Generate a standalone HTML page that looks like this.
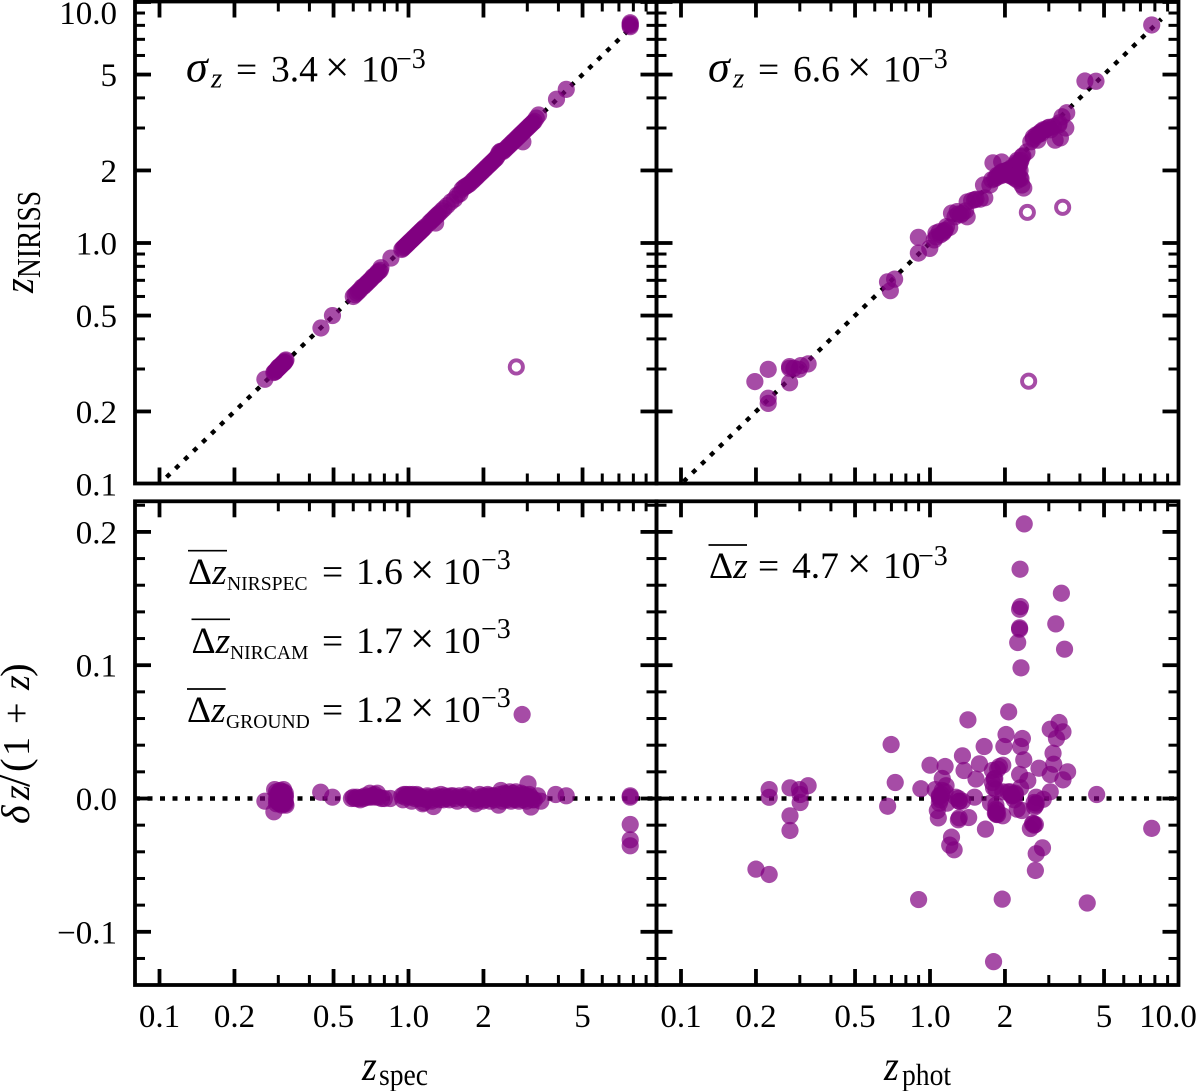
<!DOCTYPE html>
<html>
<head>
<meta charset="utf-8">
<style>
html,body{margin:0;padding:0;background:#fff;}
svg{display:block;}
text{font-family:"Liberation Serif","DejaVu Serif",serif;fill:#000;}
.i{font-style:italic;}
</style>
</head>
<body>
<svg id="fig" xmlns="http://www.w3.org/2000/svg" width="1200" height="1091" viewBox="0 0 1200 1091">
<rect x="0" y="0" width="1200" height="1091" fill="#fff"/>
<g id="layer-marks"></g>
<g id="layer-axes"></g>

<g>
<text transform="translate(33,293) rotate(-90) scale(1,1.15)" font-size="38" class="i">z</text>
<text transform="translate(40,278) rotate(-90) scale(1,1.22)" font-size="27.5">NIRISS</text>
</g>
<text transform="translate(29,824) rotate(-90)" font-size="38"><tspan x="0" class="i" font-size="40">δ</tspan><tspan x="24" class="i">z</tspan><tspan x="37" font-size="44">/</tspan><tspan x="52" font-size="41">(</tspan><tspan x="68">1</tspan><tspan x="100">+</tspan><tspan x="134" class="i">z</tspan><tspan x="147" font-size="41">)</tspan></text>
<g>
<text transform="translate(362,1080) scale(1,1.12)" font-size="38" class="i">z</text>
<text transform="translate(379,1085) scale(1,1.12)" font-size="27.6">spec</text>
</g>
<g>
<text transform="translate(884,1080) scale(1,1.12)" font-size="38" class="i">z</text>
<text transform="translate(902,1085) scale(1,1.12)" font-size="27.6">phot</text>
</g>

<text y="81.7" font-size="37.5"><tspan x="186" class="i" font-size="44">σ</tspan><tspan x="211" class="i" font-size="29" dy="6">z</tspan><tspan x="236" dy="-6">=</tspan><tspan x="271">3.4</tspan><tspan x="325" font-size="43">×</tspan><tspan x="361">10</tspan><tspan x="396" dy="-13.5" font-size="28">−3</tspan></text>
<text y="81.7" font-size="37.5"><tspan x="708" class="i" font-size="44">σ</tspan><tspan x="733" class="i" font-size="29" dy="6">z</tspan><tspan x="758" dy="-6">=</tspan><tspan x="793">6.6</tspan><tspan x="847" font-size="43">×</tspan><tspan x="883">10</tspan><tspan x="918" dy="-13.5" font-size="28">−3</tspan></text>

<line x1="188" y1="550.7" x2="227" y2="550.7" stroke="#000" stroke-width="1.7"/>
<text y="584" font-size="37.5"><tspan x="188">Δ</tspan><tspan class="i">z</tspan><tspan x="227" dy="6" font-size="19.6">NIRSPEC</tspan><tspan x="322" dy="-6">=</tspan><tspan x="356">1.6</tspan><tspan x="410" font-size="43">×</tspan><tspan x="443">10</tspan><tspan x="481" dy="-15" font-size="28">−3</tspan></text>
<line x1="191.5" y1="619.3" x2="230" y2="619.3" stroke="#000" stroke-width="1.7"/>
<text y="653" font-size="37.5"><tspan x="191.5">Δ</tspan><tspan class="i">z</tspan><tspan x="230" dy="6" font-size="19.6">NIRCAM</tspan><tspan x="322" dy="-6">=</tspan><tspan x="356">1.7</tspan><tspan x="410" font-size="43">×</tspan><tspan x="443">10</tspan><tspan x="481" dy="-15" font-size="28">−3</tspan></text>
<line x1="187" y1="689" x2="225.7" y2="689" stroke="#000" stroke-width="1.7"/>
<text y="722" font-size="37.5"><tspan x="187">Δ</tspan><tspan class="i">z</tspan><tspan x="226" dy="6" font-size="19.6">GROUND</tspan><tspan x="322" dy="-6">=</tspan><tspan x="356">1.2</tspan><tspan x="410" font-size="43">×</tspan><tspan x="443">10</tspan><tspan x="481" dy="-15" font-size="28">−3</tspan></text>
<line x1="708.5" y1="545" x2="747" y2="545" stroke="#000" stroke-width="1.7"/>
<text y="578" font-size="37.5"><tspan x="709">Δ</tspan><tspan class="i">z</tspan><tspan x="758">=</tspan><tspan x="792">4.7</tspan><tspan x="847" font-size="43">×</tspan><tspan x="883">10</tspan><tspan x="918" dy="-13" font-size="28">−3</tspan></text>
</svg>
<script>
// ---- axis tick values and labels ----
var xMajorTicks = [0.1, 0.2, 0.5, 1, 2, 5, 10];
var xMajorLabels = ["0.1", "0.2", "0.5", "1.0", "2", "5", "10.0"];
var logMinorTicks = [0.3, 0.4, 0.6, 0.7, 0.8, 0.9, 3, 4, 6, 7, 8, 9];
var topYMajorTicks = [0.1, 0.2, 0.5, 1, 2, 5, 10];
var topYMajorLabels = ["0.1", "0.2", "0.5", "1.0", "2", "5", "10.0"];
var bottomYMajorTicks = [-0.1, 0, 0.1, 0.2];
var bottomYMajorLabels = ["−0.1", "0.0", "0.1", "0.2"];
var bottomYMinorTicks = [-0.12, -0.08, -0.06, -0.04, -0.02, 0.02, 0.04, 0.06, 0.08, 0.12, 0.14, 0.16, 0.18, 0.22];

// ---- top-left: z_spec vs z_NIRISS ----
var specTopZ = [0.265,0.288,0.29,0.292,0.295,0.297,0.299,0.30,0.302,0.304,0.306,0.308,0.31,0.312,0.314,0.316,0.318,0.32,0.322,0.445,0.495,
 0.60,0.61,0.62,0.63,0.64,0.65,0.66,0.67,0.68,0.69,0.70,0.71,0.72,0.73,0.74,0.75,0.76,0.77,0.775,0.85,
 0.94,0.95,0.96,0.97,0.98,0.99,1.0,1.01,1.02,1.03,1.04,1.05,1.06,1.07,1.08,1.09,1.10,1.11,1.12,1.13,1.14,1.15,1.17,1.21,1.23,1.25,1.27,1.285,1.29,1.31,1.33,1.36,1.39,1.43,1.48,1.53,1.57,1.61,1.64,1.67,1.70,1.73,
 1.76,1.80,1.83,1.86,1.89,1.92,1.95,1.98,2.01,2.04,2.07,2.10,2.13,2.16,2.19,2.22,2.25,2.28,2.31,2.34,2.37,2.40,2.44,2.48,2.52,2.56,2.60,2.64,2.68,2.72,2.76,2.80,2.84,2.88,2.88,2.92,2.96,3.0,3.04,3.08,3.12,3.16,3.2,3.26,3.33,3.93,4.3,7.77,7.77,7.77,7.77];
var specTopNiriss = [0.272,0.29,0.292,0.293,0.297,0.30,0.301,0.305,0.304,0.308,0.308,0.312,0.312,0.316,0.316,0.32,0.32,0.324,0.327,0.444,0.50,
 0.60,0.61,0.62,0.63,0.64,0.655,0.66,0.67,0.68,0.69,0.70,0.71,0.725,0.73,0.74,0.755,0.76,0.77,0.79,0.866,
 0.94,0.95,0.96,0.97,0.98,0.99,1.0,1.01,1.02,1.03,1.04,1.05,1.06,1.07,1.08,1.09,1.10,1.11,1.12,1.13,1.14,1.15,1.17,1.21,1.23,1.25,1.27,1.21,1.29,1.31,1.33,1.36,1.39,1.43,1.48,1.52,1.58,1.60,1.67,1.70,1.72,1.74,
 1.76,1.80,1.83,1.86,1.89,1.92,1.95,1.98,2.01,2.04,2.07,2.10,2.13,2.16,2.19,2.22,2.25,2.30,2.37,2.40,2.40,2.40,2.44,2.48,2.52,2.56,2.60,2.64,2.68,2.72,2.76,2.80,2.84,2.88,2.63,2.92,2.96,3.0,3.04,3.08,3.12,3.16,3.2,3.3,3.4,3.95,4.34,7.9,8.0,8.1,8.2];
var specOutlierZ = [2.71];
var specOutlierNiriss = [0.306];

// ---- top-right: z_phot vs z_NIRISS ----
var photTopZ = [0.198,0.224,0.224,0.224,0.273,0.273,0.273,0.284,0.298,0.303,0.324,0.675,0.721,0.693,0.898,0.898,0.998,
 1.057,1.09,1.128,1.15,1.057,1.165,1.04,1.22,1.285,1.35,1.41,1.26,1.33,1.39,1.41,1.51,1.59,1.66,1.64,1.74,1.79,1.94,
 1.77,1.86,1.96,2.06,2.15,2.26,2.34,2.45,2.26,2.3,2.34,2.38,1.82,1.90,1.93,2.0,2.03,2.10,2.12,2.18,2.2,2.22,2.24,2.28,2.32,2.36,2.2,2.15,2.3,2.32,2.25,
 1.85,1.92,1.98,2.03,2.08,2.14,2.2,2.25,2.3,2.1,2.15,2.2,2.25,2.0,
 2.54,2.67,2.79,2.71,2.98,3.13,3.29,3.51,3.18,3.34,3.39,3.54,3.3,2.6,2.75,2.9,3.05,2.6,2.7,2.85,3.0,2.8,1.1,1.14,1.2,1.3,1.47,1.53,4.19,4.64,7.77];
var photTopNiriss = [0.266,0.299,0.227,0.216,0.263,0.302,0.307,0.302,0.299,0.31,0.315,0.69,0.708,0.634,1.056,0.908,0.95,
 1.06,1.114,1.10,1.13,1.10,1.17,1.03,1.33,1.35,1.33,1.285,1.285,1.31,1.36,1.48,1.51,1.52,1.54,1.74,1.74,2.15,2.17,
 1.83,1.91,1.98,2.01,2.05,2.14,2.28,2.39,1.98,1.86,1.74,1.69,1.85,1.92,1.96,1.95,2.0,1.97,2.05,2.03,2.1,2.15,2.2,2.1,2.2,2.3,1.95,1.9,2.0,1.85,1.9,
 1.87,1.9,1.92,1.93,1.95,1.98,2.02,2.1,2.15,1.9,1.88,1.85,1.82,1.98,
 2.63,2.81,2.9,2.67,3.0,3.04,3.09,3.0,2.67,2.73,3.34,3.47,3.15,2.7,2.85,2.95,2.95,2.75,2.8,2.95,3.02,2.85,1.08,1.12,1.16,1.32,1.5,1.52,4.7,4.69,8.03];
var photOutlierZ = [2.46, 3.41, 2.49];
var photOutlierNiriss = [1.34, 1.406, 0.267];

// ---- bottom-left: z_spec vs delta z / (1+z) ----
var specBottomZ = [0.265,0.288,0.29,0.315,0.295,0.30,0.305,0.31,0.315,0.32,0.295,0.30,0.305,0.31,0.315,0.32,0.30,0.31,0.32,0.295,0.31,0.322,0.296,0.32,0.32,0.297,0.305,0.312,0.444,0.495,
 0.59,0.60,0.61,0.62,0.63,0.64,0.65,0.66,0.67,0.68,0.69,0.70,0.71,0.72,0.73,0.74,0.75,0.76,0.78,0.80,0.845,
 0.94,0.96,0.97,0.98,1.0,1.01,1.02,1.04,1.05,1.06,1.08,1.10,1.12,1.14,1.16,1.18,1.20,1.23,1.26,1.26,1.29,1.33,1.36,1.40,1.44,1.48,1.54,1.60,1.66,1.72,1.78,1.86,1.90,1.95,2.0,2.05,2.1,2.15,2.2,2.25,2.30,2.33,2.35,2.4,2.45,2.5,2.55,2.6,2.65,2.7,2.75,2.8,2.86,2.9,2.95,3.02,3.0,3.1,3.1,3.2,3.3,3.4,3.9,4.3,7.77,7.77,7.77,7.77,7.77,
 0.95,1.03,1.07,1.11,1.15,1.19,1.24,1.3,1.35,1.38,1.42,1.46,1.51,1.57,1.63,1.69,1.75,1.82,1.88,1.93,1.98,2.03,2.08,2.13,2.18,2.23,2.28,2.38,2.43,2.48,2.53,2.58,2.63,2.68,2.73,2.78,2.83,2.88,2.93,2.98,3.05,3.15];
var specBottomDelta = [-0.002,-0.01,0.0067,0.0067,0.005,0.004,0.006,0.005,0.005,0.004,-0.004,-0.003,-0.004,-0.005,-0.004,-0.004,0.001,0,0.001,0,-0.001,-0.005,-0.002,0.002,-0.002,0.003,0.002,-0.002,0.0047,0.001,
 0,0.001,0,0.001,0,-0.001,0.001,0,0.002,0.001,0.001,0.004,0.001,0.002,0.003,0.001,0.004,0.001,0,0,0,
 0.002,0.003,0.001,0.003,0.002,0.003,0.001,0.003,0.002,0,0.003,0.002,0.001,-0.004,0,-0.001,0.001,-0.001,0.001,-0.006,0.002,-0.001,0.001,0.002,0.001,0.002,0,0.002,0.001,0.003,0,-0.004,0.001,0,0.002,0.001,0.002,0,0.002,0.001,-0.005,0.003,0.006,0,0.003,0.001,0.005,0.002,0,0.005,0.002,0.001,0.063,0.003,0,0.011,0.002,-0.0064,0.001,-0.001,0.002,-0.002,0.003,0.002,0.002,0.001,-0.0195,-0.031,-0.0355,
 -0.001,-0.002,0.001,0,-0.003,0.002,-0.002,0,0.003,-0.001,0,-0.001,0.002,-0.002,0.001,-0.001,0.002,-0.002,-0.001,0.003,-0.002,-0.001,0.003,-0.002,0.002,-0.001,0.001,-0.002,0.004,-0.001,0.003,-0.002,0.004,-0.001,0.002,-0.002,0.004,-0.001,0.002,-0.002,0.003,-0.001];

// ---- bottom-right: z_phot vs delta z / (1+z) ----
var photBottomZ = [2.39,2.30,3.37,2.31,2.29,2.29,2.29,3.2,2.25,3.47,2.32,2.07,1.42,3.3,3.04,3.42,3.22,2.02,2.35,2.31,1.98,1.65,3.12,0.698,1.35,2.38,1.58,1.0,1.15,1.96,3.14,2.74,1.37,1.78,2.29,3.04,3.57,1.12,0.725,1.53,1.81,2.47,3.42,0.919,1.05,1.16,1.15,1.84,2.06,2.31,2.67,3.04,2.85,1.09,1.09,1.17,1.27,1.31,1.35,1.51,1.96,2.2,2.13,1.75,1.84,1.84,1.87,1.96,2.24,2.34,2.67,2.63,1.07,1.08,1.31,1.30,1.43,1.67,2.6,2.65,2.53,1.22,1.2,1.25,2.83,2.67,2.65,0.90,1.95,4.28,1.80,7.77,4.67,0.226,0.226,0.274,0.299,0.301,0.301,0.324,0.274,0.274,0.2,0.226,0.676,
 1.09,1.1,1.11,1.12,1.31,1.3,1.83,1.85,1.86,1.84,2.12,2.15,2.18,2.1,2.2,2.62,2.66,2.58,2.62,1.8,1.78,1.82,1.9,1.87];
var photBottomDelta = [0.206,0.172,0.154,0.144,0.142,0.128,0.127,0.131,0.117,0.112,0.098,0.065,0.059,0.057,0.052,0.050,0.045,0.048,0.045,0.039,0.039,0.039,0.034,0.0405,0.032,0.029,0.026,0.025,0.024,0.025,0.0257,0.0227,0.021,0.021,0.018,0.018,0.020,0.015,0.012,0.0146,0.0146,0.0134,0.014,0.0073,0.0067,0.0096,0.005,0.0067,0.005,0.008,0.001,0.005,-0.0006,0.001,-0.0035,-0.0035,0.001,-0.002,-0.002,0.001,0.005,0.004,0.002,-0.0035,-0.005,-0.011,-0.012,-0.013,-0.008,-0.009,-0.0035,-0.0064,-0.009,-0.0146,-0.0146,-0.016,-0.0143,-0.023,-0.0187,-0.0195,-0.0225,-0.029,-0.035,-0.0385,-0.037,-0.0414,-0.054,-0.0758,-0.0755,-0.0784,-0.1224,-0.0224,0.003,0.0067,0.0009,0.008,0.0067,0.003,-0.003,0.0096,-0.013,-0.024,-0.053,-0.057,-0.0058,
 0.002,-0.001,0.003,0.006,-0.002,0,-0.011,-0.012,-0.009,-0.008,0.003,0.002,-0.001,0.005,0.003,-0.003,-0.005,-0.019,-0.02,0.008,0.012,0.015,0.024,0.022];

// ---- axis functions ----
var SVGNS = "http://www.w3.org/2000/svg";
var decadeX = 249, decadeY = 241, deltaScale = 1333;
var panelLeft = {left: 135, right: 656.5, unity: 408.5};
var panelRight = {left: 656.5, right: 1178.5, unity: 930};
var rowTop = {top: 1.5, bottom: 483.5};
var rowBottom = {top: 501.3, bottom: 985};
function xScale(panel, v) { return panel.unity + decadeX * Math.log10(v); }
function yTop(v) { return 243 - decadeY * Math.log10(v); }
function yBottom(v) { return 798.5 - deltaScale * v; }

function mk(tag, parent, attrs) {
  var el = document.createElementNS(SVGNS, tag);
  for (var k in attrs) { el.setAttribute(k, attrs[k]); }
  parent.appendChild(el);
  return el;
}
var marks = document.getElementById("layer-marks");
var axes = document.getElementById("layer-axes");
var defs = mk("defs", marks, {});
function addClip(id, panel, row) {
  var cp = mk("clipPath", defs, {id: id});
  mk("rect", cp, {x: panel.left, y: row.top, width: panel.right - panel.left, height: row.bottom - row.top});
}
addClip("clip-tl", panelLeft, rowTop);
addClip("clip-tr", panelRight, rowTop);
addClip("clip-bl", panelLeft, rowBottom);
addClip("clip-br", panelRight, rowBottom);

// ---- reference lines ----
function diagonal(panel, clipId, endZ, offset, name) {
  var el = mk("line", marks, {x1: xScale(panel, 0.1), y1: yTop(0.1), x2: xScale(panel, endZ), y2: yTop(endZ),
    stroke: "#000", "stroke-width": 4.4, "stroke-dasharray": "4.8 7.7", "stroke-dashoffset": offset, "clip-path": "url(#" + clipId + ")"});
  
  
}
function zeroLine(panel, clipId, name) {
  var el = mk("line", marks, {x1: panel.left, y1: yBottom(0), x2: panel.right, y2: yBottom(0),
    stroke: "#000", "stroke-width": 4.4, "stroke-dasharray": "5 7.5", "stroke-dashoffset": 0, "clip-path": "url(#" + clipId + ")"});
  
  
}
diagonal(panelLeft, "clip-tl", 8.4, -9.75, "one-to-one-line-spec");
diagonal(panelRight, "clip-tr", 8.5, -3.4, "one-to-one-line-phot");
zeroLine(panelLeft, "clip-bl", "zero-line-spec");
zeroLine(panelRight, "clip-br", "zero-line-phot");

// ---- points ----
function drawPoints(xs, ys, panel, yFn, clipId, name) {
  for (var i = 0; i < xs.length; i++) {
    var c = mk("circle", marks, {cx: xScale(panel, xs[i]), cy: yFn(ys[i]), r: 8.6, fill: "#800080", "fill-opacity": 0.7, "clip-path": "url(#" + clipId + ")"});
    
    
  }
}
function drawOutliers(xs, ys, panel, name) {
  for (var i = 0; i < xs.length; i++) {
    var c = mk("circle", marks, {cx: xScale(panel, xs[i]), cy: yTop(ys[i]), r: 6.6, fill: "#fff", stroke: "#800080", "stroke-opacity": 0.7, "stroke-width": 3.9});
    
    
  }
}
drawPoints(specTopZ, specTopNiriss, panelLeft, yTop, "clip-tl", "spec-point");
drawPoints(photTopZ, photTopNiriss, panelRight, yTop, "clip-tr", "phot-point");
drawPoints(specBottomZ, specBottomDelta, panelLeft, yBottom, "clip-bl", "spec-residual-point");
drawPoints(photBottomZ, photBottomDelta, panelRight, yBottom, "clip-br", "phot-residual-point");
drawOutliers(specOutlierZ, specOutlierNiriss, panelLeft, "spec-outlier-point");
drawOutliers(photOutlierZ, photOutlierNiriss, panelRight, "phot-outlier-point");

// ---- ticks, labels and frames ----
var MAJOR = 16, MINOR = 10, MAJORW = 3.8, MINORW = 3;
function tickLine(x1, y1, x2, y2, w, name) {
  var t = mk("line", axes, {x1: x1, y1: y1, x2: x2, y2: y2, stroke: "#000", "stroke-width": w});
  
  
}
function xTicks(panel, row) {
  function one(v, len, w, name) {
    var px = xScale(panel, v);
    if (px <= panel.left || px >= panel.right - 2) { return; }
    tickLine(px, row.bottom, px, row.bottom - len, w, name);
    tickLine(px, row.top, px, row.top + len, w, name);
  }
  xMajorTicks.forEach(function (v) { one(v, MAJOR, MAJORW, "x-major-tick"); });
  logMinorTicks.forEach(function (v) { one(v, MINOR, MINORW, "x-minor-tick"); });
}
function yTicks(panel, row, fn, majors, minors) {
  function one(v, len, w, name) {
    var py = fn(v);
    if (py <= row.top || py >= row.bottom) { return; }
    tickLine(panel.left, py, panel.left + len, py, w, name);
    tickLine(panel.right, py, panel.right - len, py, w, name);
  }
  majors.forEach(function (v) { one(v, MAJOR, MAJORW, "y-major-tick"); });
  minors.forEach(function (v) { one(v, MINOR, MINORW, "y-minor-tick"); });
}
function frame(panel, row, name) {
  var r = mk("rect", axes, {x: panel.left, y: row.top, width: panel.right - panel.left, height: row.bottom - row.top, fill: "none", stroke: "#000", "stroke-width": 3.8});
  
  
}
xTicks(panelLeft, rowTop); xTicks(panelRight, rowTop); xTicks(panelLeft, rowBottom); xTicks(panelRight, rowBottom);
yTicks(panelLeft, rowTop, yTop, topYMajorTicks, logMinorTicks);
yTicks(panelRight, rowTop, yTop, topYMajorTicks, logMinorTicks);
yTicks(panelLeft, rowBottom, yBottom, bottomYMajorTicks, bottomYMinorTicks);
yTicks(panelRight, rowBottom, yBottom, bottomYMajorTicks, bottomYMinorTicks);
frame(panelLeft, rowTop, "panel-frame-top-left");
frame(panelRight, rowTop, "panel-frame-top-right");
frame(panelLeft, rowBottom, "panel-frame-bottom-left");
frame(panelRight, rowBottom, "panel-frame-bottom-right");

function label(x, y, anchor, txt, name) {
  var t = mk("text", axes, {x: x, y: y, "text-anchor": anchor, "font-size": 33});
  t.textContent = txt;
  
  
}
xMajorTicks.forEach(function (v, i) {
  var lx = xScale(panelLeft, v);
  if (v < 10) { label(lx, 1027, "middle", xMajorLabels[i], "x-tick-label-spec"); }
  var rx = Math.min(xScale(panelRight, v), 1168);
  label(rx, 1027, "middle", xMajorLabels[i], "x-tick-label-phot");
});
topYMajorTicks.forEach(function (v, i) {
  label(117, Math.max(yTop(v) + 11.5, 24), "end", topYMajorLabels[i], "y-tick-label-top");
});
bottomYMajorTicks.forEach(function (v, i) {
  label(117, yBottom(v) + 11.5, "end", bottomYMajorLabels[i], "y-tick-label-bottom");
});
</script>
</body>
</html>
